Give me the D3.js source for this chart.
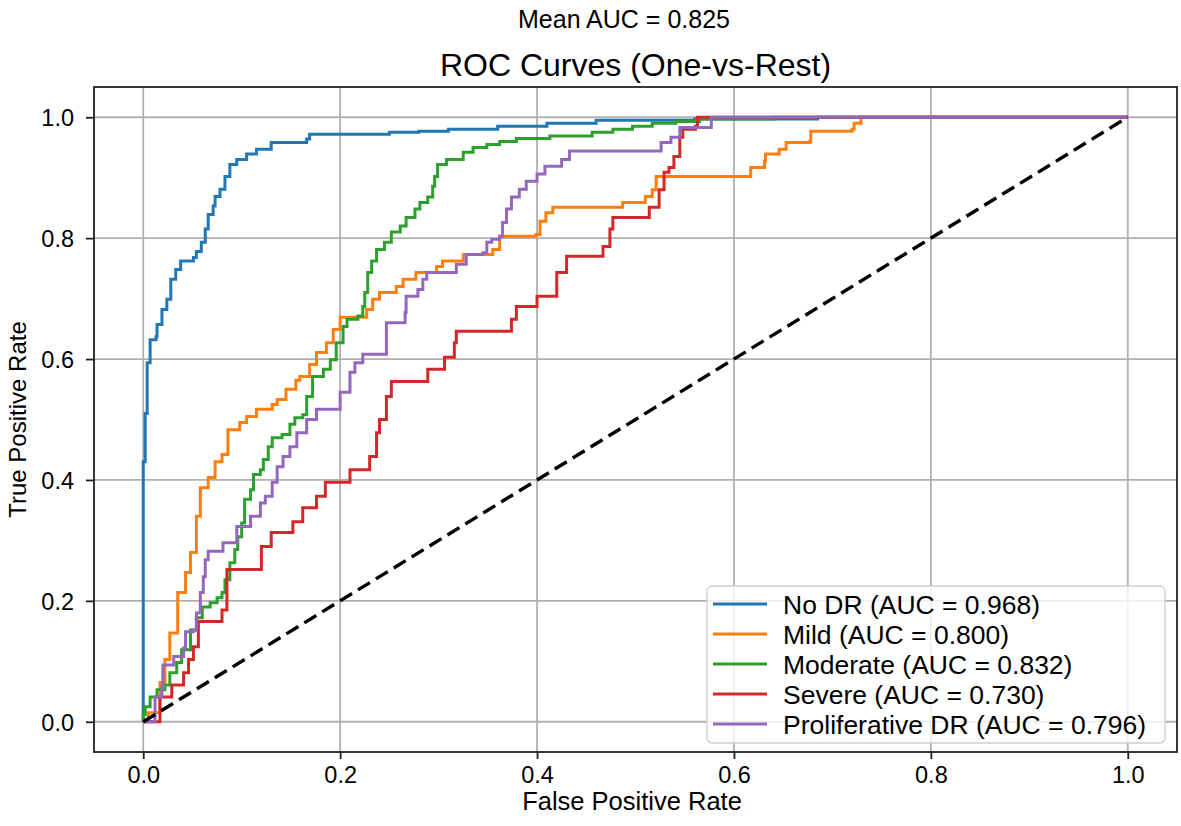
<!DOCTYPE html>
<html>
<head>
<meta charset="utf-8">
<script src="https://cdn.jsdelivr.net/npm/d3@7/dist/d3.min.js"></script>
<style>
  body { margin: 0; background: #fff; }
  svg { font-family: "Liberation Sans", Arial, sans-serif; }
</style>
</head>
<body>
<div id="chart"></div>
<script>
// class names and AUC labels
var classNames = ["No DR", "Mild", "Moderate", "Severe", "Proliferative DR"];
var aucValues = ["0.968", "0.800", "0.832", "0.730", "0.796"];
var colors = ["#1f77b4", "#ff7f0e", "#2ca02c", "#d62728", "#9467bd"];
var xTicks = [0, 0.2, 0.4, 0.6, 0.8, 1.0];
var yTicks = [0, 0.2, 0.4, 0.6, 0.8, 1.0];

// ROC points [fpr, tpr]
var rocNoDR = [[0,0],[0,0.43],[0.002,0.51],[0.004,0.594],[0.007,0.632],[0.013,0.637],[0.014,0.657],[0.019,0.682],[0.024,0.699],[0.028,0.732],[0.033,0.748],[0.038,0.762],[0.051,0.768],[0.054,0.778],[0.059,0.793],[0.063,0.815],[0.066,0.839],[0.071,0.853],[0.073,0.869],[0.078,0.881],[0.083,0.902],[0.088,0.922],[0.095,0.930],[0.105,0.939],[0.115,0.947],[0.13,0.958],[0.166,0.964],[0.169,0.972],[0.25,0.975],[0.28,0.977],[0.31,0.98],[0.36,0.985],[0.41,0.99],[0.46,0.995],[0.56,0.997],[0.685,1.0],[1,1]];
var rocMild = [[0,0],[0.005,0.015],[0.017,0.065],[0.022,0.103],[0.027,0.147],[0.035,0.214],[0.043,0.247],[0.048,0.28],[0.054,0.34],[0.058,0.387],[0.066,0.404],[0.073,0.43],[0.08,0.442],[0.086,0.483],[0.098,0.495],[0.105,0.505],[0.115,0.517],[0.131,0.525],[0.136,0.533],[0.145,0.55],[0.155,0.565],[0.159,0.571],[0.169,0.591],[0.176,0.611],[0.186,0.627],[0.193,0.649],[0.2,0.669],[0.227,0.682],[0.233,0.699],[0.24,0.71],[0.257,0.72],[0.264,0.732],[0.277,0.743],[0.298,0.753],[0.304,0.762],[0.325,0.773],[0.355,0.781],[0.362,0.803],[0.399,0.806],[0.403,0.828],[0.409,0.842],[0.416,0.851],[0.487,0.859],[0.51,0.869],[0.517,0.88],[0.521,0.902],[0.617,0.917],[0.631,0.927],[0.632,0.939],[0.646,0.947],[0.653,0.958],[0.677,0.96],[0.678,0.977],[0.72,0.98],[0.722,0.99],[0.729,1.0],[1,1]];
var rocModerate = [[0,0],[0,0.012],[0.002,0.025],[0.007,0.041],[0.014,0.053],[0.022,0.061],[0.027,0.081],[0.034,0.098],[0.039,0.119],[0.048,0.152],[0.054,0.172],[0.06,0.19],[0.068,0.197],[0.075,0.205],[0.08,0.214],[0.083,0.235],[0.088,0.263],[0.093,0.285],[0.096,0.306],[0.1,0.329],[0.103,0.368],[0.109,0.384],[0.112,0.409],[0.119,0.417],[0.122,0.434],[0.127,0.455],[0.131,0.47],[0.141,0.475],[0.149,0.492],[0.154,0.503],[0.162,0.508],[0.166,0.538],[0.172,0.571],[0.183,0.583],[0.19,0.599],[0.196,0.627],[0.203,0.654],[0.207,0.666],[0.218,0.671],[0.223,0.687],[0.225,0.71],[0.228,0.743],[0.232,0.762],[0.237,0.781],[0.245,0.793],[0.252,0.81],[0.261,0.82],[0.267,0.834],[0.276,0.848],[0.281,0.859],[0.289,0.868],[0.294,0.886],[0.296,0.902],[0.299,0.922],[0.308,0.93],[0.325,0.942],[0.335,0.95],[0.349,0.955],[0.362,0.96],[0.379,0.965],[0.413,0.969],[0.456,0.975],[0.477,0.98],[0.497,0.985],[0.517,0.99],[0.541,0.993],[0.565,0.997],[0.641,1.0],[1,1]];
var rocSevere = [[0,0],[0.017,0.041],[0.029,0.061],[0.041,0.081],[0.046,0.103],[0.051,0.124],[0.056,0.166],[0.08,0.185],[0.085,0.252],[0.12,0.29],[0.13,0.313],[0.152,0.331],[0.162,0.354],[0.176,0.373],[0.185,0.396],[0.21,0.417],[0.23,0.439],[0.237,0.478],[0.24,0.5],[0.247,0.538],[0.252,0.563],[0.289,0.583],[0.306,0.603],[0.316,0.627],[0.318,0.646],[0.374,0.666],[0.379,0.687],[0.4,0.704],[0.42,0.743],[0.43,0.77],[0.467,0.786],[0.474,0.815],[0.477,0.834],[0.514,0.851],[0.524,0.88],[0.529,0.909],[0.534,0.917],[0.539,0.935],[0.545,0.967],[0.548,0.98],[0.561,0.985],[0.563,1.0],[1,1]];
var rocProlif = [[0,0],[0.012,0.041],[0.019,0.058],[0.02,0.094],[0.031,0.108],[0.041,0.122],[0.043,0.149],[0.051,0.152],[0.054,0.18],[0.058,0.214],[0.061,0.24],[0.063,0.268],[0.066,0.282],[0.081,0.296],[0.095,0.323],[0.109,0.34],[0.119,0.362],[0.124,0.373],[0.131,0.396],[0.136,0.422],[0.142,0.439],[0.149,0.455],[0.156,0.478],[0.166,0.5],[0.176,0.517],[0.2,0.545],[0.21,0.578],[0.215,0.594],[0.223,0.608],[0.247,0.66],[0.266,0.677],[0.267,0.704],[0.279,0.715],[0.284,0.732],[0.288,0.743],[0.318,0.757],[0.328,0.773],[0.345,0.776],[0.349,0.793],[0.354,0.798],[0.362,0.803],[0.365,0.826],[0.369,0.848],[0.374,0.868],[0.382,0.881],[0.389,0.894],[0.4,0.906],[0.408,0.919],[0.425,0.93],[0.433,0.944],[0.526,0.958],[0.536,0.967],[0.545,0.983],[0.577,1.0],[1,1]];
var rocSeries = [rocNoDR, rocMild, rocModerate, rocSevere, rocProlif];
var diagonal = [[0,0],[1,1]];

var svgWidth = 1181, svgHeight = 826;
var margin = { top: 87, right: 4, bottom: 74, left: 94 };
var width = svgWidth - margin.left - margin.right;
var height = svgHeight - margin.top - margin.bottom;

var svg = d3.select("#chart")
    .append("svg")
    .attr("width", svgWidth)
    .attr("height", svgHeight);

var chartGroup = svg.append("g")
    .attr("transform", `translate(${margin.left}, ${margin.top})`);

// scales with matplotlib style 5% padding
var xScale = d3.scaleLinear().domain([-0.05, 1.05]).range([0, width]);
var yScale = d3.scaleLinear().domain([-0.05, 1.05]).range([height, 0]);

// grid
chartGroup.append("g")
    .selectAll("line")
    .data(xTicks)
    .enter()
    .append("line")
    .attr("x1", d => xScale(d)).attr("x2", d => xScale(d))
    .attr("y1", 0).attr("y2", height)
    .attr("stroke", "#b0b0b0").attr("stroke-width", 1.8);

chartGroup.append("g")
    .selectAll("line")
    .data(yTicks)
    .enter()
    .append("line")
    .attr("y1", d => yScale(d)).attr("y2", d => yScale(d))
    .attr("x1", 0).attr("x2", width)
    .attr("stroke", "#b0b0b0").attr("stroke-width", 1.8);

// axes
var xAxis = d3.axisBottom(xScale).tickValues(xTicks).tickFormat(d3.format(".1f")).tickSize(7).tickSizeOuter(0);
var yAxis = d3.axisLeft(yScale).tickValues(yTicks).tickFormat(d3.format(".1f")).tickSize(8).tickSizeOuter(0);

var gx = chartGroup.append("g")
    .attr("transform", `translate(0, ${height})`)
    .call(xAxis);
var gy = chartGroup.append("g")
    .call(yAxis);

[gx, gy].forEach(g => {
    g.select(".domain").remove();
    g.selectAll(".tick line").attr("stroke", "#222").attr("stroke-width", 1.8);
    g.selectAll(".tick text")
        .attr("font-size", "23.5px")
        .attr("fill", "#000")
        .attr("font-family", "Liberation Sans, Arial, sans-serif");
});
gx.selectAll(".tick text").attr("y", 31).attr("dy", "0");
gy.selectAll(".tick text").attr("x", -20).attr("dy", "0.35em");

// curves
var line = d3.line()
    .x(d => xScale(d[0]))
    .y(d => yScale(d[1]))
    .curve(d3.curveStepAfter);

chartGroup.append("g")
    .selectAll("path")
    .data(rocSeries)
    .enter()
    .append("path")
    .attr("d", d => line(d))
    .attr("fill", "none")
    .attr("stroke", (d, i) => colors[i])
    .attr("stroke-width", 3)
    .attr("stroke-linejoin", "miter");

// chance line
chartGroup.append("path")
    .attr("d", d3.line().x(d => xScale(d[0])).y(d => yScale(d[1]))(diagonal))
    .attr("fill", "none")
    .attr("stroke", "#000")
    .attr("stroke-width", 3.4)
    .attr("stroke-dasharray", "14,7");

// frame
chartGroup.append("rect")
    .attr("width", width).attr("height", height)
    .attr("fill", "none")
    .attr("stroke", "#222")
    .attr("stroke-width", 1.8);

// legend
var legend = chartGroup.append("g")
    .attr("transform", `translate(${707 - margin.left}, ${586 - margin.top})`);

legend.append("rect")
    .attr("width", 458).attr("height", 157)
    .attr("rx", 5)
    .attr("fill", "rgba(255,255,255,0.8)")
    .attr("stroke", "#d0d0d0")
    .attr("stroke-width", 1.4);

var legendItems = legend.selectAll("g.item")
    .data(classNames)
    .enter()
    .append("g")
    .attr("class", "item")
    .attr("transform", (d, i) => `translate(0, ${18 + i * 30})`);

legendItems.append("line")
    .attr("x1", 6).attr("x2", 60)
    .attr("stroke", (d, i) => colors[i])
    .attr("stroke-width", 3.2);

legendItems.append("text")
    .attr("x", 76)
    .attr("dy", "0.36em")
    .attr("font-size", "26.5px")
    .text((d, i) => `${d} (AUC = ${aucValues[i]})`);

// titles
svg.append("text")
    .attr("x", margin.left + width / 2)
    .attr("y", 76)
    .attr("text-anchor", "middle")
    .attr("font-size", "32px")
    .text("ROC Curves (One-vs-Rest)");

svg.append("text")
    .attr("x", 624)
    .attr("y", 28)
    .attr("text-anchor", "middle")
    .attr("font-size", "25px")
    .text("Mean AUC = 0.825");

// axis labels
svg.append("text")
    .attr("x", 632)
    .attr("y", 810)
    .attr("text-anchor", "middle")
    .attr("font-size", "25.5px")
    .text("False Positive Rate");

svg.append("text")
    .attr("transform", `translate(26, ${margin.top + height / 2}) rotate(-90)`)
    .attr("text-anchor", "middle")
    .attr("font-size", "24px")
    .text("True Positive Rate");
</script>
</body>
</html>
